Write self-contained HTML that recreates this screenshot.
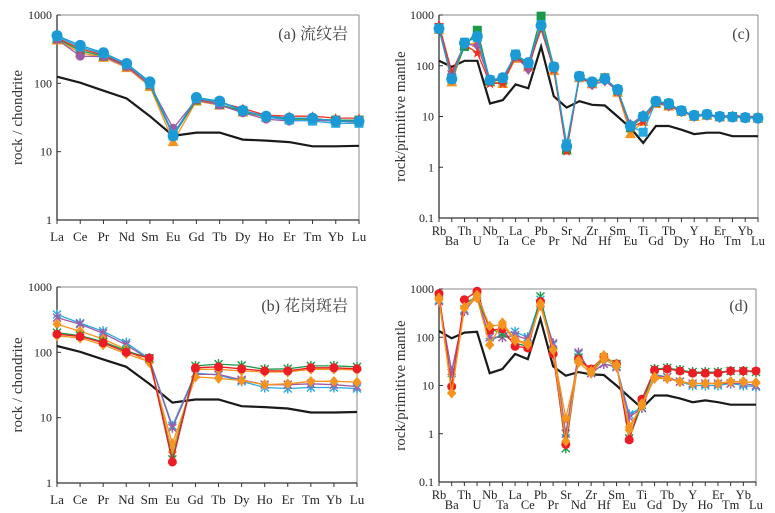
<!DOCTYPE html>
<html><head><meta charset="utf-8">
<style>
html,body{margin:0;padding:0;background:#fff;}
svg{display:block;font-family:"Liberation Serif","Noto Serif CJK SC",serif;}
</style></head>
<body>
<svg id="chart" width="775" height="513" viewBox="0 0 775 513" xmlns="http://www.w3.org/2000/svg"></svg>
<script>
const reeCats = ["La","Ce","Pr","Nd","Sm","Eu","Gd","Tb","Dy","Ho","Er","Tm","Yb","Lu"];
const tCats = ["Rb","Ba","Th","U","Nb","Ta","La","Ce","Pb","Pr","Sr","Nd","Zr","Hf","Sm","Eu","Ti","Gd","Tb","Dy","Y","Ho","Er","Tm","Yb","Lu"];
const reeTicks = [1,10,100,1000];
const traceTicks = [0.1,1,10,100,1000];

const refREE = [125,102,78,60,33,17,19,19,15,14.5,13.8,12,12,12.2];
const refTrace = [125,95,125,125,18,21,43,36,240,25,15,20,17,16.5,10,6,3,6.5,6.5,5.5,4.5,4.8,4.8,4.1,4.1,4.1];
const refTraceD = [135,95,125,130,18,22,45,35,240,25,16,19,17,16.5,10,5.8,3.4,6.2,6.2,5.4,4.5,4.9,4.5,4,4,4];

const aRed = [460,320,260,185,98,18,58,52,43,34,33,33,31,31];
const aOrange = [430,280,240,170,90,14,55,48,38,32,30,30,29,29];
const aGreen = [450,300,250,180,95,17,57,49,39,32,30,30,29,29];
const aPurple = [440,250,245,175,95,22,58,48,37,30,28,29,28,27];
const aLight = [480,340,270,190,100,18,60,53,40,32,29,28,26,26];
const aBlue = [500,360,280,195,105,17,62,55,40,33,31,31,28,28];

const bRed = [190,175,140,100,82,2.1,58,60,56,52,52,58,58,56];
const bGreen = [200,180,145,105,82,2.3,62,66,63,55,56,62,62,60];
const bOrange = [270,210,160,110,70,4,42,40,37,32,33,36,36,35];
const bLight = [380,280,210,140,80,7.5,48,45,36,29,28,29,29,28];
const bPurple = [340,270,195,130,78,7,46,46,38,32,32,33,32,30];
const bOrange2 = [180,165,130,95,72,3,55,55,52,50,50,55,55,54];

const cRed = [650,75,260,180,45,45,150,100,520,85,2.1,60,45,60,31,6,8,19,17,13,10.5,11,10,10.5,10,10];
const cOrange = [520,48,250,290,48,45,140,95,700,80,2.2,58,44,55,30,4.6,8,18,16,12.5,10,10.5,9.8,9.8,9.5,9.3];
const cGreen = [560,58,240,500,50,52,160,105,950,95,2.2,62,47,58,33,6,10,19,17,13,10.5,11,10,10,9.5,9.4];
const cPurple = [550,70,270,250,50,55,150,85,600,90,2.4,60,42,50,32,7,10.5,19,16,12.5,10,10.5,9.5,9.8,9.5,9.2];
const cLight = [540,55,290,360,53,57,170,110,650,95,2.9,62,47,56,34,6.5,4.9,20,18,13,10.5,11,10,9.8,9.5,9.3];
const cBlue = [540,55,280,380,52,58,165,115,620,95,2.6,62,48,55,34,6.5,10,20,18,13,10.5,11,10,9.8,9.5,9.3];

const dRed = [800,9.5,600,900,140,150,65,60,550,45,0.6,35,22,40,28,0.75,5.2,21,22,20,18,18,18,20,20,20];
const dGreen = [750,8,500,700,150,120,75,65,700,50,0.5,38,20,38,28,0.8,4,22,23,21,19,19,19,20,20,19];
const dOrange = [600,7,400,650,70,200,90,75,450,55,2.1,30,18,35,25,1.4,3.8,14,14,12,11,11,11,12,12,11.5];
const dLight = [600,18,380,800,80,120,130,100,600,70,0.8,45,18,28,25,2.5,3.5,17,15,12,10,10,10,11,10,9.5];
const dPurple = [560,20,350,700,100,100,110,90,500,75,1,48,18,28,24,2.2,3.4,16,15,12,11,11,11,11,11,10];
const dOrange2 = [650,7,420,750,170,180,85,70,500,55,0.7,33,20,42,27,1.2,4.2,15,14,12,11,11,11,12,12,11.5];

const NS = "http://www.w3.org/2000/svg";
const svg = document.getElementById("chart");
function mk(tag, attrs, parent){
  const e = document.createElementNS(NS, tag);
  for (const k in attrs) e.setAttribute(k, attrs[k]);
  (parent||svg).appendChild(e);
  return e;
}

function marker(g, shape, x, y, color){
  let m;
  const r = 4.5;
  if (shape === "circle") m = mk("circle",{cx:x,cy:y,r:r,fill:color},g);
  else if (shape === "bigcircle") m = mk("circle",{cx:x,cy:y,r:5.5,fill:color},g);
  else if (shape === "square") m = mk("rect",{x:x-r,y:y-r,width:2*r,height:2*r,fill:color},g);
  else if (shape === "triangle") m = mk("polygon",{points:`${x},${y-r-1} ${x-r-1},${y+r} ${x+r+1},${y+r}`,fill:color},g);
  else if (shape === "diamond") m = mk("polygon",{points:`${x},${y-r-1} ${x-r},${y} ${x},${y+r+1} ${x+r},${y}`,fill:color},g);
  else if (shape === "star") m = mk("polygon",{points:`${x},${y-5} ${x+1.5},${y-1.5} ${x+5},${y-1.5} ${x+2.2},${y+1} ${x+3.2},${y+5} ${x},${y+2.6} ${x-3.2},${y+5} ${x-2.2},${y+1} ${x-5},${y-1.5} ${x-1.5},${y-1.5}`,fill:color},g);
  else if (shape === "cross") {
    m = mk("path",{d:`M${x-4},${y-4}L${x+4},${y+4}M${x-4},${y+4}L${x+4},${y-4}M${x},${y-5}L${x},${y+5}`,stroke:color,"stroke-width":1.4,fill:"none"},g);
  }
  
  
}

function panel(opt){
  const {name,x0,x1,yTop,yBot,minExp,maxExp,cats,ticks,series,ref,title,titleX,titleY,ylabel,ylx,twoRow,labelY} = opt;
  const g = mk("g",{});
  const xs = i => x0 + (x1-x0)*i/(cats.length-1);
  const ys = v => yTop + (maxExp - Math.log10(v))/(maxExp-minExp)*(yBot-yTop);
  const fr = mk("g",{},g);
  mk("line",{x1:x0,y1:yTop,x2:x1,y2:yTop,stroke:"#888","stroke-width":1},fr);
  mk("line",{x1:x1,y1:yTop,x2:x1,y2:yBot,stroke:"#888","stroke-width":1},fr);
  mk("line",{x1:x0,y1:yTop,x2:x0,y2:yBot,stroke:"#333","stroke-width":1.3},fr);
  mk("line",{x1:x0,y1:yBot,x2:x1,y2:yBot,stroke:"#333","stroke-width":1.3},fr);
  const ya = mk("g",{},g);
  ticks.forEach(t=>{
    const y = ys(t);
    mk("line",{x1:x0,y1:y,x2:x0+4,y2:y,stroke:"#333","stroke-width":1},ya);
    const tx = mk("text",{x:x0-5,y:y+4,"text-anchor":"end","font-size":12,fill:"#222"},ya);
    tx.textContent = t;
    
    
  });
  const xa = mk("g",{},g);
  cats.forEach((c,i)=>{
    const x = xs(i);
    mk("line",{x1:x,y1:yBot,x2:x,y2:yBot+4,stroke:"#333","stroke-width":1},xa);
    const ly = twoRow ? (i%2===0 ? labelY : labelY+10) : labelY;
    const tx = mk("text",{x:x,y:ly,"text-anchor":"middle","font-size":twoRow?12.5:13,fill:"#222"},xa);
    tx.textContent = c;
    
    
  });
  const yl = mk("text",{x:ylx,y:(yTop+yBot)/2,"text-anchor":"middle","font-size":15,fill:"#333",transform:`rotate(-90 ${ylx} ${(yTop+yBot)/2})`},g);
  yl.textContent = ylabel;
  
  
  const tt = mk("text",{x:titleX,y:titleY,"text-anchor":"end","font-size":16,fill:"#444"},g);
  tt.textContent = title;
  
  
  const rp = ref.map((v,i)=>`${i?'L':'M'}${xs(i).toFixed(1)},${ys(v).toFixed(1)}`).join("");
  const rl = mk("path",{d:rp,stroke:"#1a1a1a","stroke-width":2.2,fill:"none"},g);
  
  
  series.forEach(s=>{
    const sg = mk("g",{},g);
    
    
    const p = s.v.map((v,i)=>`${i?'L':'M'}${xs(i).toFixed(1)},${ys(v).toFixed(1)}`).join("");
    mk("path",{d:p,stroke:s.c,"stroke-width":1.3,fill:"none"},sg);
    s.v.forEach((v,i)=>marker(sg,s.m,xs(i),ys(v),s.c));
  });
}

panel({name:"panel-a",x0:57,x1:359,yTop:15,yBot:220,minExp:0,maxExp:3,cats:reeCats,ticks:reeTicks,ref:refREE,
  title:"(a) 流纹岩",titleX:348,titleY:39,ylabel:"rock / chondrite",ylx:22,twoRow:false,labelY:241,
  series:[{v:aOrange,c:"#f7941d",m:"triangle"},{v:aGreen,c:"#1a9a48",m:"square"},{v:aPurple,c:"#a05ba5",m:"circle"},{v:aRed,c:"#ee3124",m:"star"},{v:aLight,c:"#27aae1",m:"square"},{v:aBlue,c:"#1b9ad6",m:"bigcircle"}]});

panel({name:"panel-c",x0:439,x1:758,yTop:15,yBot:218,minExp:-1,maxExp:3,cats:tCats,ticks:traceTicks,ref:refTrace,
  title:"(c)",titleX:750,titleY:39,ylabel:"rock/primitive mantle",ylx:405,twoRow:true,labelY:235,
  series:[{v:cOrange,c:"#f7941d",m:"triangle"},{v:cGreen,c:"#1a9a48",m:"square"},{v:cPurple,c:"#a05ba5",m:"diamond"},{v:cRed,c:"#ee3124",m:"star"},{v:cLight,c:"#27aae1",m:"square"},{v:cBlue,c:"#1b9ad6",m:"bigcircle"}]});

panel({name:"panel-b",x0:57,x1:357,yTop:287,yBot:483,minExp:0,maxExp:3,cats:reeCats,ticks:reeTicks,ref:refREE,
  title:"(b) 花岗斑岩",titleX:348,titleY:311,ylabel:"rock / chondrite",ylx:22,twoRow:false,labelY:504,
  series:[{v:bLight,c:"#27aae1",m:"cross"},{v:bPurple,c:"#a05ba5",m:"cross"},{v:bOrange,c:"#f7941d",m:"diamond"},{v:bOrange2,c:"#f7941d",m:"diamond"},{v:bGreen,c:"#1a9a48",m:"cross"},{v:bRed,c:"#ee1c25",m:"circle"}]});

panel({name:"panel-d",x0:439,x1:756,yTop:289,yBot:482,minExp:-1,maxExp:3,cats:tCats,ticks:traceTicks,ref:refTraceD,
  title:"(d)",titleX:748,titleY:311,ylabel:"rock/primitive mantle",ylx:405,twoRow:true,labelY:499,
  series:[{v:dLight,c:"#27aae1",m:"cross"},{v:dPurple,c:"#a05ba5",m:"cross"},{v:dGreen,c:"#1a9a48",m:"cross"},{v:dRed,c:"#ee1c25",m:"circle"},{v:dOrange2,c:"#f7941d",m:"diamond"},{v:dOrange,c:"#f7941d",m:"diamond"}]});
</script>
</body></html>
